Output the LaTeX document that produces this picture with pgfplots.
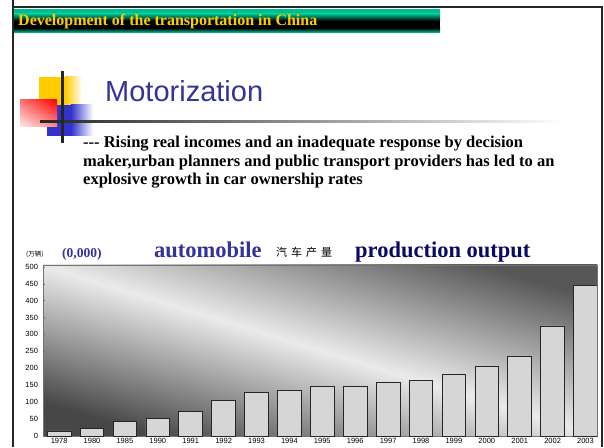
\documentclass[border=0pt]{standalone}
\usepackage{pgfplots}
\pgfplotsset{compat=1.18}
\usetikzlibrary{shadings}
\usepackage{fontspec}
\setmainfont{Liberation Serif}
\setsansfont{Liberation Sans}
\newfontfamily\cjk{Noto Sans CJK SC}

\definecolor{slideTeal}{RGB}{0,215,165}
\definecolor{titleYellow}{RGB}{255,204,0}
\definecolor{motBlue}{RGB}{51,51,153}
\definecolor{outNavy}{RGB}{10,10,100}
\definecolor{logoRed}{RGB}{255,0,0}
\definecolor{logoBlue}{RGB}{51,51,204}
\definecolor{barGray}{RGB}{214,214,214}

\begin{document}
\begin{tikzpicture}[x=1pt,y=1pt]
\useasboundingbox (0,0) rectangle (604,447);
\fill[white] (0,0) rectangle (604,447);

% slide frame
\draw[black!85, line width=1.6pt] (13,447) -- (13,440) -- (602,440) -- (602,0);
\draw[black!85, line width=1.6pt] (13,447) -- (13,0);

% header bar
\fill[slideTeal!88!black] (14,438) rectangle (440,433);
\shade[top color=slideTeal!88!black, bottom color=black] (14,433) rectangle (440,426);
\fill[black] (14,426) rectangle (440,419);
\shade[top color=black, bottom color=slideTeal] (14,419) rectangle (440,414);
\node[anchor=base west, inner sep=0, text=titleYellow, font=\fontsize{16}{18}\selectfont\bfseries]
  at (18,421) {Development of the transportation in China};

% logo
\fill[titleYellow] (39,335) rectangle (65,370);
\shade[left color=titleYellow, right color=white] (65,335) rectangle (82,370);
\fill[logoBlue] (47,311) rectangle (71,342);
\shade[left color=logoBlue, right color=white] (71,311) rectangle (93,342);
\shade[upper right=logoRed, upper left=logoRed!55, lower right=logoRed!45, lower left=logoRed!8]
  (20,320) rectangle (57,347);
\shade[left color=black!85, right color=white] (40,324) rectangle (565,326.5);
\fill[black!85] (61,304) rectangle (63.5,376);
\node[anchor=base west, inner sep=0, text=motBlue, font=\fontsize{29}{32}\selectfont\sffamily]
  at (105,345) {Motorization};

% bullet text
\begin{scope}[every node/.style={anchor=base west, inner sep=0, font=\fontsize{16.5}{19}\selectfont\bfseries}]
\node at (83,299) {-{}-{}- Rising real incomes and an inadequate response by decision};
\node at (83,280.5) {maker,urban planners and public transport providers has led to an};
\node at (83,262) {explosive growth in car ownership rates};
\end{scope}

% chart heading
\node[anchor=base west, inner sep=0, font=\fontsize{6.5}{7}\selectfont\cjk] at (26,190) {(万辆)};
\node[anchor=base west, inner sep=0, text=motBlue, font=\fontsize{13.5}{15}\selectfont\bfseries] at (62,189) {(0,000)};
\node[anchor=base west, inner sep=0, text=motBlue, font=\fontsize{22.5}{25}\selectfont\bfseries] at (154,189) {automobile};
\node[anchor=base west, inner sep=0, font=\fontsize{11}{12}\selectfont\cjk] at (276,190) {汽\hspace{4pt}车\hspace{4pt}产\hspace{4pt}量};
\node[anchor=base west, inner sep=0, text=outNavy, font=\fontsize{22.5}{25}\selectfont\bfseries] at (355,189) {production output};

% plot-area backdrop: dark corners, light band from upper left to lower right
\shade[top color=black!66, bottom color=black!72, middle color=black!8, shading angle=-17]
  (43,11) rectangle (597,182);

\begin{axis}[
  at={(43pt,11pt)}, anchor=south west,
  scale only axis, width=554pt, height=171pt,
  ybar, bar width=0.72,
  xmin=-0.49, xmax=16.35, ymin=0, ymax=505,
  xtick={0,...,16},
  xticklabels={1978,1980,1985,1990,1991,1992,1993,1994,1995,1996,1997,1998,1999,2000,2001,2002,2003},
  ytick={0,50,...,500},
  major x tick style={draw=none},
  extra x ticks={0.5,1.5,...,15.5},
  extra x tick labels={},
  extra x tick style={major tick length=2pt, tick style={black!70}},
  major tick length=2pt,
  tick align=inside,
  tick style={black!60},
  axis line style={black!55, line width=0.9pt},
  tick label style={font=\fontsize{7.5}{8}\selectfont\sffamily},
  /pgf/number format/assume math mode=true,
  xticklabel style={yshift=1.5pt},
  yticklabel style={xshift=-1.5pt},
]
\addplot[fill=barGray, draw=black!85, line width=0.8pt] coordinates {
  (0,14.9) (1,22.2) (2,43.7) (3,51.4) (4,71.4) (5,106.2) (6,129.7) (7,135.3) (8,145.3)
  (9,147.5) (10,158.3) (11,162.8) (12,183.2) (13,206.9) (14,234.2) (15,325.1) (16,444.4)
};
\end{axis}
\end{tikzpicture}
\end{document}
